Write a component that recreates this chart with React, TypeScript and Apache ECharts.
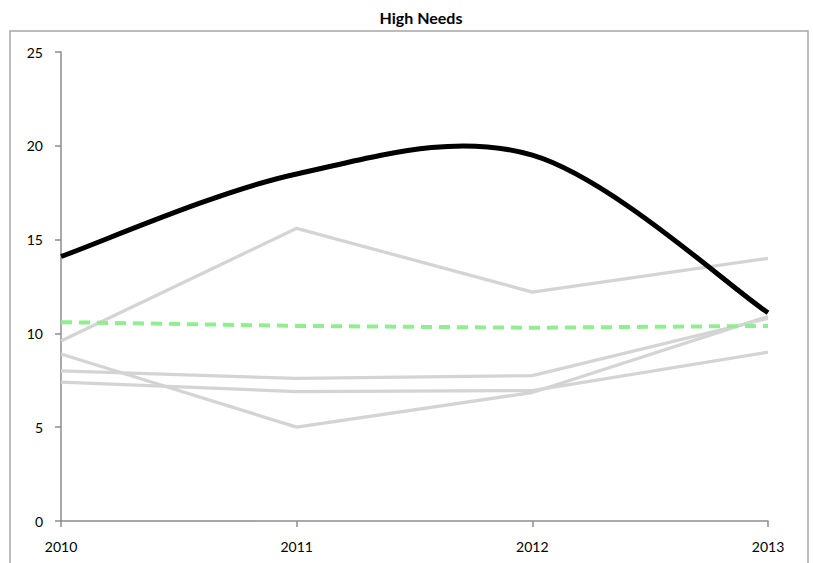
import React, { useEffect, useRef } from "react";
import * as echarts from "echarts";

const years = ["2010", "2011", "2012", "2013"];
const highNeeds = [14.1, 18.5, 19.5, 11.1];
const average = [10.6, 10.4, 10.3, 10.4];
const grayA = [9.6, 15.6, 12.2, 14.0];
const grayB = [8.9, 5.0, 6.85, 10.9];
const grayC = [8.0, 7.6, 7.75, 10.8];
const grayD = [7.4, 6.9, 6.95, 9.0];
const yTicks = { min: 0, max: 25, interval: 5 };
const chartTitle = "High Needs";

export default function App() {
  const ref = useRef<HTMLDivElement>(null);
  useEffect(() => {
    document.body.style.margin = "0";
    const chart = echarts.init(ref.current!, null, { renderer: "svg" });
    const font = "Lato, 'Open Sans', sans-serif";
    const grayStyle = { color: "#d4d4d4", width: 3.3 };
    const gray = (d: number[]) => ({
      type: "line",
      data: d,
      symbol: "none",
      lineStyle: grayStyle,
      itemStyle: { color: "#d4d4d4" },
      z: 2,
    });
    chart.setOption({
      animation: false,
      backgroundColor: "#ffffff",
      graphic: [
        {
          type: "rect",
          shape: { x: 10, y: 31, width: 798, height: 560 },
          style: { fill: "none", stroke: "#a6a6a6", lineWidth: 1.5 },
          silent: true,
        },
        {
          type: "text",
          x: 421,
          y: 17,
          style: {
            text: chartTitle,
            fontFamily: font,
            fontWeight: "bold",
            fontSize: 16,
            fill: "#000",
            align: "center",
            verticalAlign: "middle",
          },
        },
      ],
      grid: { left: 61, right: 45, top: 52, bottom: 42 },
      xAxis: {
        type: "category",
        data: years,
        boundaryGap: false,
        axisLine: { lineStyle: { color: "#8c8c8c", width: 1.5 } },
        axisTick: { show: true, length: 6, lineStyle: { color: "#8c8c8c", width: 1.5 } },
        axisLabel: { color: "#000", fontSize: 14, fontFamily: font, margin: 18 },
        splitLine: { show: false },
      },
      yAxis: {
        type: "value",
        min: yTicks.min,
        max: yTicks.max,
        interval: yTicks.interval,
        axisLine: { show: true, lineStyle: { color: "#8c8c8c", width: 1.5 } },
        axisTick: { show: true, length: 6, lineStyle: { color: "#8c8c8c", width: 1.5 } },
        axisLabel: { color: "#000", fontSize: 14, fontFamily: font, margin: 18 },
        splitLine: { show: false },
      },
      series: [
        gray(grayA),
        gray(grayB),
        gray(grayC),
        gray(grayD),
        {
          type: "line",
          data: average,
          symbol: "none",
          lineStyle: { color: "#90ee90", width: 4, type: [11, 7] },
          itemStyle: { color: "#90ee90" },
          z: 3,
        },
        {
          type: "custom",
          data: [[0, highNeeds[0]]],
          z: 4,
          clip: false,
          renderItem: (_params: any, api: any) => {
            const pts = highNeeds.map((v, i) => api.coord([i, v]));
            const n = pts.length;
            let d = `M${pts[0][0]},${pts[0][1]}`;
            for (let i = 0; i < n - 1; i++) {
              const p0 = pts[Math.max(0, i - 1)];
              const p1 = pts[i];
              const p2 = pts[i + 1];
              const p3 = pts[Math.min(n - 1, i + 2)];
              const c1x = p1[0] + (p2[0] - p0[0]) / 6;
              const c1y = p1[1] + (p2[1] - p0[1]) / 6;
              const c2x = p2[0] - (p3[0] - p1[0]) / 6;
              const c2y = p2[1] - (p3[1] - p1[1]) / 6;
              d += ` C${c1x},${c1y} ${c2x},${c2y} ${p2[0]},${p2[1]}`;
            }
            return {
              type: "path",
              shape: { pathData: d },
              style: { stroke: "#000", lineWidth: 5, fill: "none" },
            };
          },
        },
      ],
    });
    return () => chart.dispose();
  }, []);
  return <div ref={ref} style={{ width: 813, height: 563 }} />;
}
